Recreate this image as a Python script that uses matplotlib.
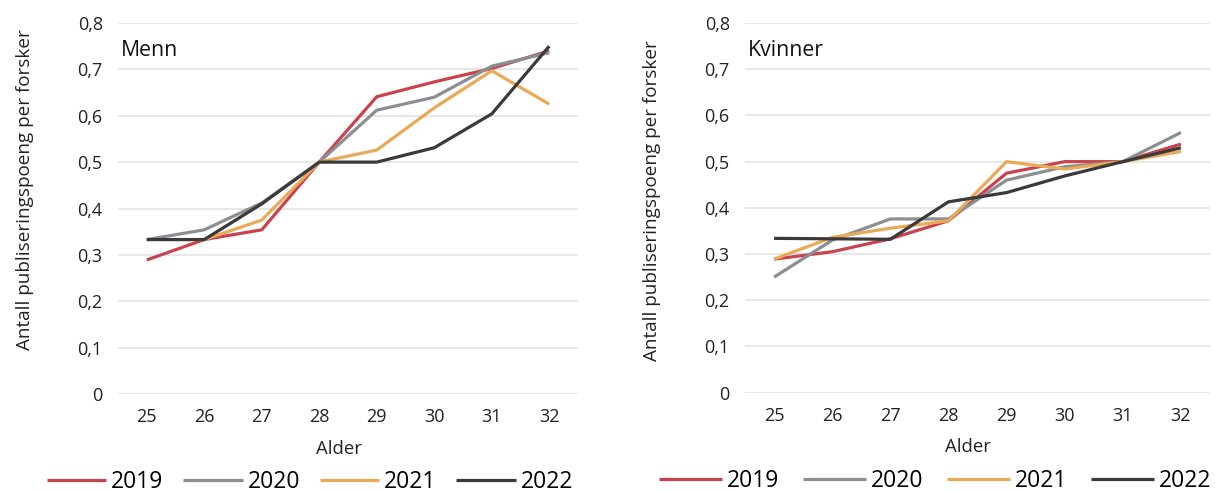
import matplotlib
matplotlib.use("Agg")
import matplotlib.pyplot as plt

plt.rcParams['font.family'] = ['Open Sans', 'DejaVu Sans']

ages = [25, 26, 27, 28, 29, 30, 31, 32]
years = ["2019", "2020", "2021", "2022"]
colors = ["#C9434F", "#8B8E92", "#E9AA58", "#3A3A3A"]

menn = {
    "2019": [0.289, 0.333, 0.354, 0.500, 0.641, 0.673, 0.702, 0.740],
    "2020": [0.333, 0.354, 0.412, 0.500, 0.612, 0.640, 0.707, 0.736],
    "2021": [0.333, 0.333, 0.375, 0.500, 0.526, 0.617, 0.697, 0.625],
    "2022": [0.333, 0.333, 0.410, 0.500, 0.500, 0.531, 0.604, 0.750],
}
kvinner = {
    "2019": [0.289, 0.305, 0.333, 0.372, 0.475, 0.500, 0.500, 0.538],
    "2020": [0.250, 0.330, 0.376, 0.376, 0.460, 0.489, 0.500, 0.563],
    "2021": [0.289, 0.336, 0.356, 0.372, 0.500, 0.484, 0.500, 0.522],
    "2022": [0.334, 0.333, 0.332, 0.413, 0.433, 0.469, 0.500, 0.530],
}
yticks = [0, 0.1, 0.2, 0.3, 0.4, 0.5, 0.6, 0.7, 0.8]
ytick_labels = ["0", "0,1", "0,2", "0,3", "0,4", "0,5", "0,6", "0,7", "0,8"]

W, H = 1215, 492
fig = plt.figure(figsize=(W / 100, H / 100), dpi=100)

def setup(ax, data, title, legend_center, legend_y, ylabel_y, hl, cs):
    for y, c in zip(years, colors):
        ax.plot(ages, data[y], color=c, lw=2.3, label=y, solid_capstyle='butt')
    ax.set_ylim(0, 0.8)
    ax.set_xlim(24.5, 32.5)
    ax.set_yticks(yticks)
    ax.set_yticklabels(ytick_labels)
    ax.set_xticks(ages)
    ax.grid(axis='y', color='#E3E3E3', lw=1.2)
    ax.set_axisbelow(True)
    for s in ax.spines.values():
        s.set_visible(False)
    ax.tick_params(axis='both', length=0, labelsize=13, colors='#222222')
    ax.tick_params(axis='y', pad=11)
    ax.tick_params(axis='x', pad=10)
    ax.set_xlabel("Alder", fontsize=13.3, color='#222222', labelpad=10)
    ax.xaxis.label.set_x(0.48)
    ax.set_ylabel("Antall publiseringspoeng per forsker", fontsize=13.6,
                  color='#222222', labelpad=31)
    ax.yaxis.label.set_y(ylabel_y)
    ax.text(0.006, 0.925, title, transform=ax.transAxes, fontsize=15.3,
            color='#111111', va='center', ha='left')
    ax.legend(loc='center', bbox_to_anchor=(legend_center, legend_y), ncol=4,
              frameon=False, fontsize=16.5, handlelength=hl, columnspacing=cs,
              handletextpad=0.22)

ax1 = fig.add_axes([118 / W, 98 / H, 460 / W, 371 / H])
setup(ax1, menn, "Menn", (310 - 118) / 460, -0.236, 0.55, 2.6, 0.85)
ax2 = fig.add_axes([745 / W, 99.3 / H, 465 / W, 369.7 / H])
setup(ax2, kvinner, "Kvinner", (935 - 745) / 465, -0.240, 0.52, 2.75, 1.03)

fig.savefig("out.png", dpi=100)
